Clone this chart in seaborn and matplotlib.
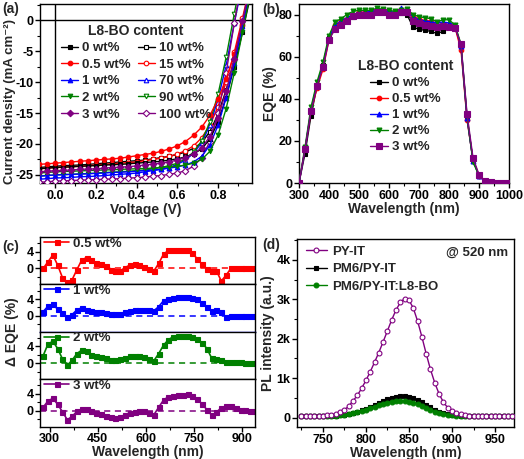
import matplotlib
matplotlib.use("Agg")
import matplotlib.pyplot as plt
from matplotlib.ticker import MultipleLocator, FuncFormatter, FixedLocator
import seaborn as sns
import pandas as pd

sns.set_theme(style="ticks")
plt.rcParams['font.family'] = ['Liberation Sans', 'DejaVu Sans']
plt.rcParams['font.weight'] = 'bold'
plt.rcParams['axes.labelweight'] = 'bold'
plt.rcParams['axes.unicode_minus'] = False

BLACK, RED, BLUE, GREEN, PURPLE = '#000000', '#FF0000', '#0000FF', '#008000', '#800080'

# ---------------- (a) J-V data ----------------
V = [-0.08, -0.04, 0.0, 0.04, 0.08, 0.12, 0.16, 0.20, 0.24, 0.28, 0.32, 0.36, 0.40, 0.44,
     0.48, 0.52, 0.56, 0.60, 0.64, 0.68, 0.72, 0.76, 0.80, 0.84, 0.88, 0.92, 0.96]
jv_labels = ['0 wt%', '0.5 wt%', '1 wt%', '2 wt%', '3 wt%',
             '10 wt%', '15 wt%', '70 wt%', '90 wt%', '100 wt%']
J_0 = [-24.0, -23.9, -23.8, -23.75, -23.7, -23.6, -23.55, -23.5, -23.4, -23.35, -23.3, -23.2, -23.1, -23.0,
       -22.9, -22.8, -22.6, -22.4, -22.1, -21.6, -20.8, -19.2, -16.5, -12.5, -7.5, -2.0, 4.0]
J_05 = [-23.3, -23.2, -23.1, -23.0, -22.9, -22.8, -22.7, -22.6, -22.5, -22.4, -22.3, -22.1, -21.9, -21.7,
        -21.5, -21.2, -20.8, -20.3, -19.6, -18.6, -17.3, -15.4, -12.8, -9.5, -5.5, -0.8, 4.5]
J_1 = [-25.2, -25.1, -25.0, -24.95, -24.9, -24.85, -24.8, -24.75, -24.7, -24.6, -24.55, -24.5, -24.4, -24.3,
       -24.2, -24.1, -23.9, -23.7, -23.4, -22.9, -22.0, -20.2, -17.0, -12.5, -7.0, -1.0, 5.0]
J_2 = [-24.7, -24.6, -24.5, -24.45, -24.4, -24.35, -24.3, -24.25, -24.2, -24.15, -24.1, -24.05, -24.0, -23.95,
       -23.9, -23.8, -23.7, -23.6, -23.4, -23.1, -22.5, -21.2, -18.6, -14.3, -8.5, -2.0, 4.5]
J_3 = [-24.5, -24.4, -24.3, -24.25, -24.2, -24.1, -24.05, -24.0, -23.9, -23.8, -23.75, -23.65, -23.55, -23.4,
       -23.25, -23.1, -22.9, -22.6, -22.2, -21.6, -20.6, -18.8, -15.8, -11.5, -6.2, -0.2, 6.0]
J_10 = [-23.8, -23.7, -23.6, -23.5, -23.45, -23.4, -23.3, -23.2, -23.1, -23.0, -22.9, -22.8, -22.7, -22.6,
        -22.4, -22.2, -22.0, -21.7, -21.3, -20.7, -19.8, -18.0, -15.2, -11.3, -6.3, -0.8, 5.0]
J_15 = [-24.0, -23.9, -23.8, -23.7, -23.65, -23.6, -23.5, -23.4, -23.3, -23.2, -23.1, -23.0, -22.9, -22.7,
        -22.5, -22.3, -22.0, -21.6, -21.1, -20.3, -19.0, -17.0, -14.0, -10.0, -5.2, 0.3, 6.0]
J_70 = [-25.7, -25.6, -25.5, -25.45, -25.4, -25.3, -25.25, -25.2, -25.1, -25.0, -24.9, -24.8, -24.7, -24.5,
        -24.3, -24.1, -23.8, -23.3, -22.6, -21.5, -19.8, -17.0, -12.8, -7.3, -0.5, 6.0, 12.0]
J_90 = [-25.2, -25.1, -25.0, -24.95, -24.9, -24.85, -24.8, -24.7, -24.6, -24.55, -24.5, -24.4, -24.3, -24.2,
        -24.0, -23.8, -23.5, -23.1, -22.4, -21.3, -19.5, -16.5, -12.0, -6.0, 1.0, 8.0, 15.0]
J_100 = [-26.2, -26.1, -26.0, -25.95, -25.9, -25.85, -25.8, -25.75, -25.7, -25.65, -25.6, -25.5, -25.45, -25.35,
         -25.2, -25.1, -24.9, -24.7, -24.3, -23.6, -22.2, -19.6, -15.0, -8.5, -0.5, 7.0, 14.0]
jv_curves = [J_0, J_05, J_1, J_2, J_3, J_10, J_15, J_70, J_90, J_100]

# ---------------- (b) EQE data ----------------
wl_b = list(range(300, 1001, 20))
eqe_labels = ['0 wt%', '0.5 wt%', '1 wt%', '2 wt%', '3 wt%']
EQE_0 = [0, 14, 32, 46, 56, 69, 74, 75, 77, 79, 80, 80, 80.5, 81, 81, 80.5, 80, 80.5, 80, 74,
         73, 72.5, 72, 71, 72, 74, 74, 65, 31, 11, 3.5, 1, 0.3, 0.2, 0.1, 0]
EQE_05 = [0, 16, 34, 45, 54, 68, 75, 77, 78, 80, 81, 81, 81, 82, 82, 81, 81, 81.5, 81.5, 79,
          78, 77, 77, 75, 75, 75, 74, 63, 30, 11, 3.5, 1, 0.3, 0.2, 0.1, 0]
EQE_1 = [0, 16, 35, 47, 56, 69, 75, 77, 78.5, 80, 81, 81, 81.5, 82, 82, 81.5, 81, 83, 82, 79,
         77.5, 77, 76.5, 76, 76.5, 76, 75, 65, 31, 10.5, 3.5, 1, 0.3, 0.2, 0.1, 0]
EQE_2 = [0, 17, 36, 48, 57.5, 70, 76.5, 78, 80, 81.5, 82, 82, 82, 83, 82.5, 82, 81.5, 82, 82.5, 80,
         79, 78.5, 78, 76.5, 77.5, 77.5, 75, 66, 32, 10, 3.5, 1, 0.3, 0.2, 0.1, 0]
EQE_3 = [0, 16, 34, 46, 55, 68, 73, 75, 77, 79.5, 80, 80, 80, 81, 81, 80, 80, 81, 81, 77,
         76, 75, 74.5, 74, 74.5, 74, 73.5, 66, 33, 12, 4, 1, 0.3, 0.2, 0.1, 0]
eqe_curves = [EQE_0, EQE_05, EQE_1, EQE_2, EQE_3]

# ---------------- (c) delta EQE data ----------------
wl_c = list(range(280, 941, 15))
dEQE_05 = [0, 1.6, 3.2, 0.8, -2.2, -3.3, -2.7, -0.3, 2.0, 2.6, 2.0, 1.4, 1.0, 0.5, -0.3, -0.5, -0.6,
           0.2, 0.8, 1.0, 0.9, 0.4, -0.2, -0.6, 1.2, 3.4, 4.3, 4.5, 4.5, 4.5, 4.4, 3.6, 2.3, 1.0, -0.1,
           -0.6, -0.6, -3.0, -1.6, 0, 0, 0, 0, 0, 0]
dEQE_1 = [1.0, 2.3, 2.7, 1.6, 0.6, -0.4, 0.3, 1.4, 1.9, 1.5, 1.1, 1.0, 0.9, 0.6, 0.4, 0.4, 0.5,
          0.9, 1.2, 1.4, 1.5, 1.5, 1.3, 1.2, 2.2, 3.6, 4.1, 4.3, 4.4, 4.5, 4.4, 4.2, 3.9, 3.1, 2.1,
          1.2, 1.5, 0.9, -0.4, -0.1, 0, 0, 0, 0, 0]
dEQE_2 = [1.8, 4.6, 5.2, 3.5, 1.0, -0.5, 0.7, 2.3, 3.1, 2.9, 2.0, 1.8, 1.5, 1.2, 0.8, 0.8, 1.0,
          1.3, 1.6, 1.7, 1.8, 1.5, 0.9, 0.6, 2.3, 4.3, 5.6, 6.3, 6.5, 6.6, 6.6, 6.3, 5.8, 4.9, 3.5,
          1.2, 1.1, 0.8, 0.4, 0.4, 0.3, 0.2, 0.15, 0.05, 0]
dEQE_3 = [0.8, 2.3, 2.9, 1.5, -0.3, -2.2, -1.4, -0.2, 0.3, 0.4, -0.2, -0.6, -0.9, -1.2, -1.6, -1.7, -1.5,
          -1.0, -0.5, -0.3, -0.1, -0.2, -0.6, -1.0, 0.8, 2.5, 3.3, 3.5, 3.6, 3.8, 3.9, 3.4, 2.7, 1.6, 0.2,
          -1.1, -0.4, 0.7, 1.0, 1.0, 0.5, 0.25, 0.1, 0, 0]
d_curves = [dEQE_05, dEQE_1, dEQE_2, dEQE_3]
d_labels = ['0.5 wt%', '1 wt%', '2 wt%', '3 wt%']

# ---------------- (d) PL data ----------------
wl_d = list(range(725, 976, 5))
PL_pyit = [40, 40, 40, 45, 45, 50, 55, 70, 90, 130, 190, 290, 420, 560, 740, 940, 1160, 1400, 1650,
           1920, 2200, 2480, 2730, 2920, 3020, 2980, 2780, 2450, 2050, 1620, 1220, 880, 600, 390, 250,
           160, 110, 80, 60, 50, 45, 40, 40, 40, 40, 40, 40, 40, 40, 40, 40]
PL_pm6 = [30, 30, 30, 30, 30, 32, 35, 40, 50, 60, 75, 95, 120, 150, 185, 225, 270, 320, 370,
          420, 465, 500, 525, 540, 545, 530, 495, 445, 385, 320, 255, 200, 150, 115, 88,
          68, 55, 47, 42, 38, 35, 33, 32, 31, 30, 30, 30, 30, 30, 30, 30]
PL_l8 = [30, 30, 30, 30, 30, 32, 34, 38, 45, 55, 68, 85, 105, 130, 160, 195, 235, 275, 315,
         350, 380, 405, 420, 425, 420, 405, 380, 340, 295, 245, 195, 150, 115, 88, 68,
         55, 47, 42, 38, 35, 33, 32, 31, 30, 30, 30, 30, 30, 30, 30, 30]
pl_labels = ['PY-IT', 'PM6/PY-IT', 'PM6/PY-IT:L8-BO']

W, H = 524, 459
fig = plt.figure(figsize=(W / 100, H / 100), dpi=100)
TICK, LAB, LEG = 9, 10, 9.5


def box(l, t, r, b):
    return [l / W, 1 - b / H, (r - l) / W, (b - t) / H]


def style(ax):
    for s in ax.spines.values():
        s.set_color('black')
        s.set_linewidth(1.0)
    ax.tick_params(which='major', direction='out', length=3.5, width=1, labelsize=TICK,
                   colors='black', pad=1.2)
    ax.tick_params(which='minor', direction='out', length=2, width=0.8, colors='black')
    ax.set_facecolor('white')


def draw(ax, x, y, color, marker, ms, filled=True, lw=1.0, ls='-', label=None, z=2):
    df = pd.DataFrame({'x': x, 'y': y})
    sns.lineplot(data=df, x='x', y='y', ax=ax, color=color, marker=marker, markersize=ms,
                 mfc=color if filled else 'white', mec=color, mew=0.8, lw=lw, ls=ls,
                 label=label, sort=False, legend=False, zorder=z)


# ---------------- panel (a) ----------------
axA = fig.add_axes(box(40, 4, 252, 183))
style(axA)
axA.axhline(0, color='black', lw=1, zorder=1)
axA.axvline(0, color='black', lw=1, zorder=1)
jv_colors = [BLACK, RED, BLUE, GREEN, PURPLE] * 2
jv_markers = ['s', 'o', '^', 'v', 'D'] * 2
for i, (lab, J) in enumerate(zip(jv_labels, jv_curves)):
    draw(axA, V, J, jv_colors[i], jv_markers[i], 3.3, filled=i < 5, label=lab, z=3 + (i < 5))
axA.set_xlim(-0.074, 0.967)
axA.set_ylim(-26.3, 2.6)
axA.xaxis.set_major_locator(MultipleLocator(0.2))
axA.xaxis.set_minor_locator(MultipleLocator(0.1))
axA.yaxis.set_major_locator(MultipleLocator(5))
axA.yaxis.set_minor_locator(MultipleLocator(2.5))
axA.xaxis.set_major_formatter(FuncFormatter(lambda v, p: f'{v:.1f}'))
axA.yaxis.set_major_formatter(FuncFormatter(lambda v, p: f'{v:.0f}'))
axA.set_xlabel('Voltage (V)', fontsize=LAB, labelpad=1)
axA.set_ylabel('')
fig.text(10 / W, 1 - 101 / H, 'Current density (mA cm\u207b\u00b2)', rotation=90,
         ha='center', va='center', fontsize=9.5, fontweight='bold')
h, l = axA.get_legend_handles_labels()
axA.legend(h, l, ncol=2, loc='upper left', bbox_to_anchor=(0.1, 0.89), frameon=False,
           title='L8-BO content', fontsize=LEG, title_fontproperties={'weight': 'bold', 'size': 10},
           handlelength=1.3, handletextpad=0.3, columnspacing=0.5, labelspacing=0.33,
           borderaxespad=0, borderpad=0)

# ---------------- panel (b) ----------------
axB = fig.add_axes(box(299, 4, 509, 183))
style(axB)
b_colors = [BLACK, RED, BLUE, GREEN, PURPLE]
b_markers = ['s', 'o', '^', 'v', 's']
b_ms = [3, 3.3, 3.5, 3.5, 3.8]
for i, (lab, E) in enumerate(zip(eqe_labels, eqe_curves)):
    draw(axB, wl_b, E, b_colors[i], b_markers[i], b_ms[i], label=lab, z=2 + i)
axB.set_xlim(300, 1000)
axB.set_ylim(0, 85)
axB.xaxis.set_major_locator(MultipleLocator(100))
axB.xaxis.set_minor_locator(MultipleLocator(50))
axB.yaxis.set_major_locator(MultipleLocator(20))
axB.yaxis.set_minor_locator(MultipleLocator(10))
axB.set_xlabel('Wavelength (nm)', fontsize=LAB, labelpad=0)
axB.set_ylabel('EQE (%)', fontsize=LAB, labelpad=1)
h, l = axB.get_legend_handles_labels()
axB.legend(h, l, loc='upper left', bbox_to_anchor=(0.28, 0.69), frameon=False,
           title='L8-BO content', fontsize=LEG, title_fontproperties={'weight': 'bold', 'size': 10},
           handlelength=1.4, handletextpad=0.3, labelspacing=0.28, borderaxespad=0, borderpad=0)

# ---------------- panel (c) ----------------
c_top, c_bot = 237, 426.5
hh = (c_bot - c_top) / 4
c_colors = [RED, BLUE, GREEN, PURPLE]
axC = []
for i in range(4):
    ax = fig.add_axes(box(40, c_top + i * hh, 255, c_top + (i + 1) * hh))
    style(ax)
    ax.axhline(0, color=c_colors[i], lw=1.1, ls=(0, (4, 3)), zorder=1)
    draw(ax, wl_c, d_curves[i], c_colors[i], 's', 3.6, lw=1.2, label=d_labels[i])
    ax.set_xlim(270, 940)
    ax.set_ylim(-3.8, 7.5)
    ax.yaxis.set_major_locator(FixedLocator([0, 4]))
    ax.yaxis.set_minor_locator(FixedLocator([-2, 2, 6]))
    ax.xaxis.set_major_locator(MultipleLocator(150))
    ax.xaxis.set_minor_locator(MultipleLocator(75))
    ax.set_xlabel('')
    ax.set_ylabel('')
    if i < 3:
        ax.tick_params(axis='x', which='both', length=0, labelbottom=False)
    h, l = ax.get_legend_handles_labels()
    ax.legend(h, l, loc='upper left', bbox_to_anchor=(0.02, 0.99), frameon=False, fontsize=LEG,
              handlelength=1.9, handletextpad=0.25, borderaxespad=0, borderpad=0)
    axC.append(ax)
axC[1].spines['bottom'].set_color(BLUE)
axC[3].set_xlabel('Wavelength (nm)', fontsize=LAB, labelpad=0)
fig.text(12 / W, 1 - 332 / H, '\u0394 EQE (%)', rotation=90, ha='center', va='center',
         fontsize=LAB, fontweight='bold')

# ---------------- panel (d) ----------------
axD = fig.add_axes(box(297, 239, 514, 427))
style(axD)
draw(axD, wl_d, PL_pyit, PURPLE, 'o', 3.5, filled=False, lw=1.0, label=pl_labels[0], z=4)
draw(axD, wl_d, PL_pm6, BLACK, 's', 3.2, lw=1.0, label=pl_labels[1], z=2)
draw(axD, wl_d, PL_l8, GREEN, 'o', 3.5, lw=1.0, label=pl_labels[2], z=3)
axD.set_xlim(720, 972)
axD.set_ylim(-240, 4530)
axD.xaxis.set_major_locator(MultipleLocator(50))
axD.xaxis.set_minor_locator(MultipleLocator(25))
axD.yaxis.set_major_locator(MultipleLocator(1000))
axD.yaxis.set_minor_locator(MultipleLocator(500))
axD.yaxis.set_major_formatter(FuncFormatter(lambda v, p: '0' if v == 0 else f'{v / 1000:.0f}k'))
axD.set_xlabel('Wavelength (nm)', fontsize=LAB, labelpad=0)
axD.set_ylabel('PL intensity (a.u.)', fontsize=LAB, labelpad=1)
h, l = axD.get_legend_handles_labels()
axD.legend(h, l, loc='upper left', bbox_to_anchor=(0.04, 0.965), frameon=False, fontsize=LEG,
           handlelength=1.6, handletextpad=0.4, labelspacing=0.4, borderaxespad=0, borderpad=0)
axD.text(0.975, 0.925, '@ 520 nm', transform=axD.transAxes, ha='right', va='center',
         fontsize=LEG, fontweight='bold')

# panel letters
for txt, x, y in [('(a)', 2, 9), ('(b)', 262, 10), ('(c)', 2, 247), ('(d)', 262, 245)]:
    fig.text(x / W, 1 - y / H, txt, ha='left', va='center', fontsize=LAB, fontweight='bold')

fig.savefig('out.png', dpi=100, facecolor='white')
